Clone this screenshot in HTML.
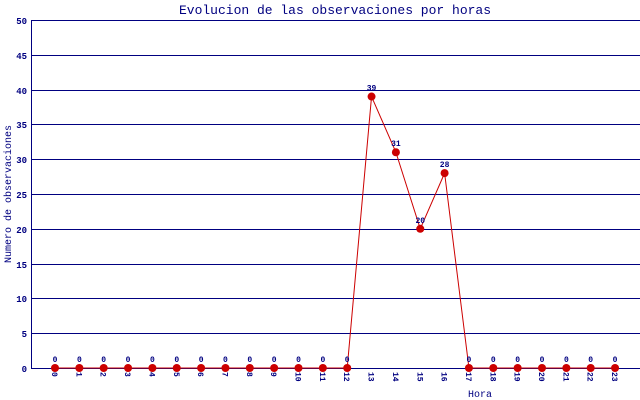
<!DOCTYPE html>
<html><head><meta charset="utf-8"><style>
html,body{margin:0;padding:0;background:#fff}
svg{display:block}
text{font-family:"Liberation Mono","DejaVu Sans Mono",monospace;fill:#000080}
</style></head><body>
<svg width="640" height="400" xmlns="http://www.w3.org/2000/svg">
<text x="335" y="14" font-size="13" text-anchor="middle">Evolucion de las observaciones por horas</text>
<g stroke="#000080" stroke-width="1">
<line x1="31" y1="20.5" x2="640" y2="20.5"/>
<line x1="31" y1="55.5" x2="640" y2="55.5"/>
<line x1="31" y1="90.5" x2="640" y2="90.5"/>
<line x1="31" y1="124.5" x2="640" y2="124.5"/>
<line x1="31" y1="159.5" x2="640" y2="159.5"/>
<line x1="31" y1="194.5" x2="640" y2="194.5"/>
<line x1="31" y1="229.5" x2="640" y2="229.5"/>
<line x1="31" y1="264.5" x2="640" y2="264.5"/>
<line x1="31" y1="298.5" x2="640" y2="298.5"/>
<line x1="31" y1="333.5" x2="640" y2="333.5"/>
<line x1="31" y1="368.5" x2="640" y2="368.5"/>
<line x1="31.5" y1="20" x2="31.5" y2="368"/>
</g>
<g font-size="9" text-anchor="end" font-weight="bold">
<text x="27" y="24">50</text><text x="27" y="59">45</text><text x="27" y="94">40</text>
<text x="27" y="128">35</text><text x="27" y="163">30</text><text x="27" y="198">25</text>
<text x="27" y="233">20</text><text x="27" y="268">15</text><text x="27" y="302">10</text>
<text x="27" y="337">5</text><text x="27" y="372">0</text>
</g>
<text transform="translate(11,194) rotate(-90)" font-size="10" text-anchor="middle">Numero de observaciones</text>
<text x="480" y="397" font-size="10" text-anchor="middle">Hora</text>
<g id="xt" font-size="8" font-weight="bold"></g>
<polyline fill="none" stroke="#cc0000" stroke-width="1" points=""/>
<g id="pts"></g>
<script>
var v=[0,0,0,0,0,0,0,0,0,0,0,0,0,39,31,20,28,0,0,0,0,0,0,0];
var ns="http://www.w3.org/2000/svg",svg=document.querySelector('svg');
var xt=document.getElementById('xt'),pts=document.getElementById('pts'),pl=document.querySelector('polyline');
var p=[];
for(var i=0;i<24;i++){
 var x=55+i*24.35,y=368-v[i]*6.96;p.push(x+','+y);
 var t=document.createElementNS(ns,'text');t.setAttribute('transform','translate('+(x-3)+',372) rotate(90)');t.textContent=i;xt.appendChild(t);
 var c=document.createElementNS(ns,'circle');c.setAttribute('cx',x);c.setAttribute('cy',y);c.setAttribute('r',4);c.setAttribute('fill','#cc0000');pts.appendChild(c);
 var l=document.createElementNS(ns,'text');l.setAttribute('x',x);l.setAttribute('y',y-6);l.setAttribute('font-size','8');l.setAttribute('font-weight','bold');l.setAttribute('text-anchor','middle');l.textContent=v[i];pts.appendChild(l);
}
pl.setAttribute('points',p.join(' '));
</script>
</svg>
</body></html>
